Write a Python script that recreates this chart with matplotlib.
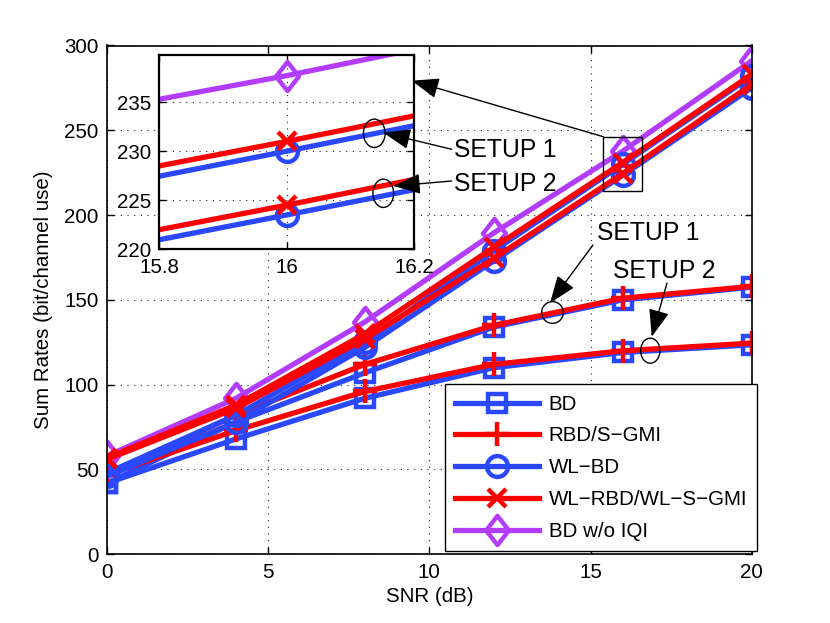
import matplotlib
matplotlib.use("Agg")
import matplotlib.pyplot as plt
from matplotlib.patches import Ellipse, Rectangle, FancyArrowPatch
from matplotlib.path import Path

plt.rcParams['font.family'] = ['Liberation Sans', 'DejaVu Sans']

# ---------------- data ----------------
snr = [0, 4, 8, 12, 16, 20]

bd_s1 = [42, 78, 107, 134, 150, 157.5]
rbd_s1 = [47, 82, 112, 135, 151, 158]
bd_s2 = [42, 68, 92, 110, 119, 123.5]
rbd_s2 = [47, 73, 96, 112, 120, 124.5]

wlbd_s1 = [48, 82, 125, 179, 230, 282]
wlrbd_s1 = [57, 88, 130, 181, 231, 283]
wlbd_s2 = [46, 78, 122, 173, 223.5, 275]
wlrbd_s2 = [56, 86, 127, 174.5, 224.5, 277]

bd_noiqi = [58, 92, 137, 189.5, 237.7, 291]

labels = ['BD', 'RBD/S\u2212GMI', 'WL\u2212BD', 'WL\u2212RBD/WL\u2212S\u2212GMI', 'BD w/o IQI']
xticks = [0, 5, 10, 15, 20]
yticks = [0, 50, 100, 150, 200, 250, 300]
in_xticks = [15.8, 16, 16.2]
in_yticks = [220, 225, 230, 235]

# ---------------- style ----------------
BLUE = '#2A48FF'
RED = '#FF0000'
PURPLE = '#B23CFF'
LW = 3.8
MEW = 3.2
FS = 14.8

diamond = Path([(0, 1), (0.78, 0), (0, -1), (-0.78, 0), (0, 1)],
               [Path.MOVETO, Path.LINETO, Path.LINETO, Path.LINETO, Path.CLOSEPOLY])

W, H = 830, 623
fig = plt.figure(figsize=(W / 100, H / 100), dpi=100)


def fx(x):
    return x / W


def fy(y):
    return 1 - y / H


ax = fig.add_axes([fx(107), fy(554.3), fx(751.7) - fx(107), fy(45.5) - fy(554.3)])


def draw_all(a):
    kw = dict(lw=LW, mew=MEW, mfc='none')
    a.plot(snr, bd_noiqi, color=PURPLE, marker=diamond, ms=21, label=labels[4], **kw)
    a.plot(snr, bd_s1, color=BLUE, marker='s', ms=13, label=labels[0], **kw)
    a.plot(snr, bd_s2, color=BLUE, marker='s', ms=13, label='_nolegend_', **kw)
    a.plot(snr, rbd_s1, color=RED, marker='+', ms=17, label=labels[1], **kw)
    a.plot(snr, rbd_s2, color=RED, marker='+', ms=17, label='_nolegend_', **kw)
    a.plot(snr, wlbd_s1, color=BLUE, marker='o', ms=15, label=labels[2], **kw)
    a.plot(snr, wlbd_s2, color=BLUE, marker='o', ms=15, label='_nolegend_', **kw)
    a.plot(snr, wlrbd_s1, color=RED, marker='x', ms=13, label=labels[3], **kw)
    a.plot(snr, wlrbd_s2, color=RED, marker='x', ms=13, label='_nolegend_', **kw)


def style_axes(a, lw_box=1.2):
    a.grid(True, linestyle=(0, (1, 5)), color='#222222', lw=0.8)
    a.tick_params(direction='in', top=True, right=True, length=5, width=1,
                  labelsize=FS, pad=6)
    for s in a.spines.values():
        s.set_linewidth(lw_box)


draw_all(ax)
ax.set_xlim(0, 20)
ax.set_ylim(0, 300)
ax.set_xticks(xticks)
ax.set_yticks(yticks)
style_axes(ax)
ax.set_xlabel('SNR (dB)', fontsize=FS, labelpad=4)
ax.set_ylabel('Sum Rates (bit/channel use)', fontsize=FS, labelpad=8)

# rectangle marking zoomed region
ax.add_patch(Rectangle((15.4, 214), 1.2, 32, fill=False, ec='k', lw=1, zorder=5))

# legend
handles, labs = ax.get_legend_handles_labels()
order = [labels.index(l) for l in labs]
pairs = sorted(zip(order, handles, labs))
leg = fig.legend([p[1] for p in pairs], [p[2] for p in pairs],
                 loc='lower right', bbox_to_anchor=(fx(757.3), fy(551)),
                 bbox_transform=fig.transFigure, borderaxespad=0,
                 fontsize=FS, frameon=True, fancybox=False, framealpha=1,
                 edgecolor='k', handlelength=4.1, handletextpad=0.45,
                 labelspacing=0.62, borderpad=0.5, numpoints=1)
leg.get_frame().set_linewidth(1.0)

# inset
axi = fig.add_axes([fx(159.3), fy(249.3), fx(414.3) - fx(159.3), fy(55) - fy(249.3)])
draw_all(axi)
axi.set_xlim(15.8, 16.2)
axi.set_ylim(220, 239.8)
axi.set_xticks(in_xticks)
axi.set_xticklabels(['15.8', '16', '16.2'])
axi.set_yticks(in_yticks)
style_axes(axi, lw_box=1.6)
axi.set_facecolor('white')


# annotations (figure pixel geometry)
def arrow(x0, y0, x1, y1):
    fig.add_artist(FancyArrowPatch((fx(x0), fy(y0)), (fx(x1), fy(y1)),
                                   transform=fig.transFigure,
                                   arrowstyle='-|>,head_length=0.85,head_width=0.32',
                                   mutation_scale=20, color='k', lw=1.0,
                                   shrinkA=0, shrinkB=0, zorder=10))


def ell(cx, cy, w, h):
    fig.add_artist(Ellipse((fx(cx), fy(cy)), w / W, h / H, transform=fig.transFigure,
                           fill=False, ec='k', lw=1.0, zorder=10))


def txt(x, y, s):
    fig.text(fx(x), fy(y), s, fontsize=17.8, ha='left', va='baseline', zorder=10)


arrow(603.3, 136.7, 411.7, 80.7)

ell(374.3, 133.3, 21.7, 28.3)
ell(383.3, 193.3, 20.7, 28.3)
arrow(451.7, 149.3, 383.3, 132.7)
arrow(451.7, 181, 393.3, 186)
txt(454, 157.3, 'SETUP 1')
txt(454, 190.7, 'SETUP 2')

ell(552.5, 312.5, 21.7, 21.7)
ell(650.3, 350.7, 19.3, 25)
arrow(593, 245, 550, 303)
arrow(667, 283, 651.7, 336.7)
txt(596.7, 240, 'SETUP 1')
txt(613.3, 278.3, 'SETUP 2')

fig.savefig('out.png', dpi=100)
